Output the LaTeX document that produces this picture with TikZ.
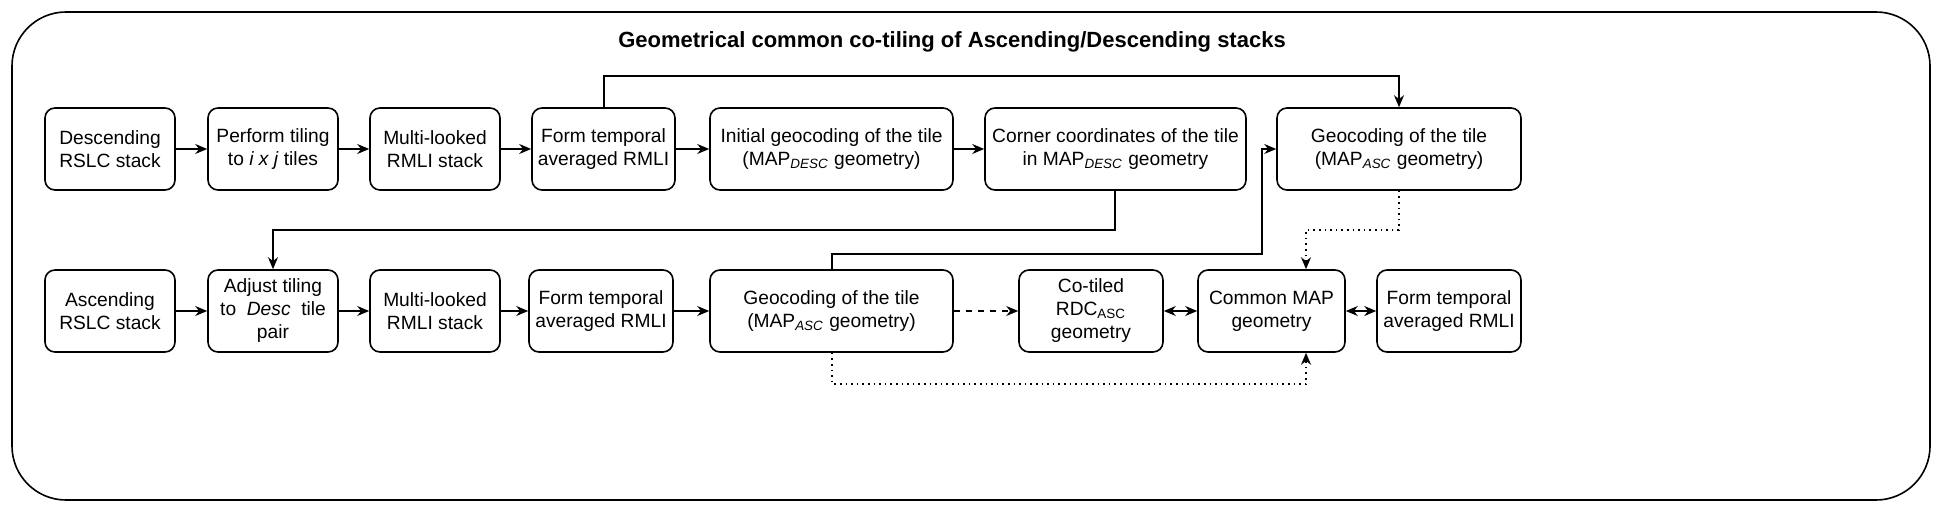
\documentclass[tikz,border=0pt]{standalone}
\usepackage{fontspec}
\setmainfont{Liberation Sans}
\usetikzlibrary{arrows.meta}
\begin{document}
\begin{tikzpicture}[x=0.5pt,y=-0.5pt,
  box/.style={draw,line width=0.8pt,rounded corners=5pt,align=center,font=\fontsize{9.6}{11.5}\selectfont,inner sep=1pt},
  arr/.style={line width=0.8pt,-{Stealth[length=6pt,width=5pt]}},
  darr/.style={line width=0.8pt,{Stealth[length=6pt,width=5pt]}-{Stealth[length=6pt,width=5pt]}}]
\useasboundingbox (0,0) rectangle (1942,513);
\draw[line width=0.8pt,rounded corners=27pt] (12,12) rectangle (1930,500);
\node[font=\bfseries\fontsize{11}{13}\selectfont] (title) at (952,42) {Geometrical common co-tiling of Ascending/Descending stacks};
\newcommand\bx[6]{\node[box,minimum width={(#3-#2)*0.5pt},minimum height={(#5-#4)*0.5pt}] (#1) at ({(#2+#3)/2},{(#4+#5)/2}) {#6};}
\bx{d1}{45}{175}{108}{190}{Descending\\RSLC stack}
\bx{d2}{208}{338}{108}{190}{Perform tiling\\to \textit{i x j} tiles}
\bx{d3}{370}{500}{108}{190}{Multi-looked\\RMLI stack}
\bx{d4}{532}{675}{108}{190}{Form temporal\\averaged RMLI}
\bx{d5}{710}{953}{108}{190}{Initial geocoding of the tile\\(MAP\textsubscript{\textit{DESC}} geometry)}
\bx{d6}{985}{1246}{108}{190}{Corner coordinates of the tile\\in MAP\textsubscript{\textit{DESC}} geometry}
\bx{d7}{1277}{1521}{108}{190}{Geocoding of the tile\\(MAP\textsubscript{\textit{ASC}} geometry)}
\bx{a1}{45}{175}{270}{352}{Ascending\\RSLC stack}
\bx{a2}{208}{338}{270}{352}{Adjust tiling\\to \ \textit{Desc}\ \ tile\\pair}
\bx{a3}{370}{500}{270}{352}{Multi-looked\\RMLI stack}
\bx{a4}{529}{673}{270}{352}{Form temporal\\averaged RMLI}
\bx{a5}{710}{953}{270}{352}{Geocoding of the tile\\(MAP\textsubscript{\textit{ASC}} geometry)}
\bx{a6}{1019}{1163}{270}{352}{Co-tiled\\RDC\textsubscript{ASC}\\geometry}
\bx{a7}{1198}{1345}{270}{352}{Common MAP\\geometry}
\bx{a8}{1377}{1521}{270}{352}{Form temporal\\averaged RMLI}
\foreach \a/\b in {d1/d2,d2/d3,d3/d4,d4/d5,d5/d6,a1/a2,a2/a3,a3/a4,a4/a5} \draw[arr] (\a) -- (\b);
\draw[arr,dashed] (a5) -- (a6);
\draw[darr] (a6) -- (a7);
\draw[darr] (a7) -- (a8);
\coordinate (p1) at (604,76); \coordinate (p2) at (1399,76);
\draw[arr] (d4.north -| p1) -- (p1) -- (p2) -- (d7.north -| p2);
\coordinate (q1) at (1115,230); \coordinate (q2) at (273,230);
\draw[arr] (d6.south -| q1) -- (q1) -- (q2) -- (a2.north -| q2);
\coordinate (r1) at (832,254); \coordinate (r2) at (1262,254); \coordinate (r3) at (1262,149);
\draw[arr] (a5.north -| r1) -- (r1) -- (r2) -- (r3) -- (d7.west);
\coordinate (s1) at (1399,230); \coordinate (s2) at (1306,230);
\draw[arr,dotted] (d7.south -| s1) -- (s1) -- (s2) -- (a7.north -| s2);
\coordinate (t1) at (832,384); \coordinate (t2) at (1306,384);
\draw[arr,dotted] (a5.south -| t1) -- (t1) -- (t2) -- (a7.south -| t2);
\end{tikzpicture}
\end{document}
